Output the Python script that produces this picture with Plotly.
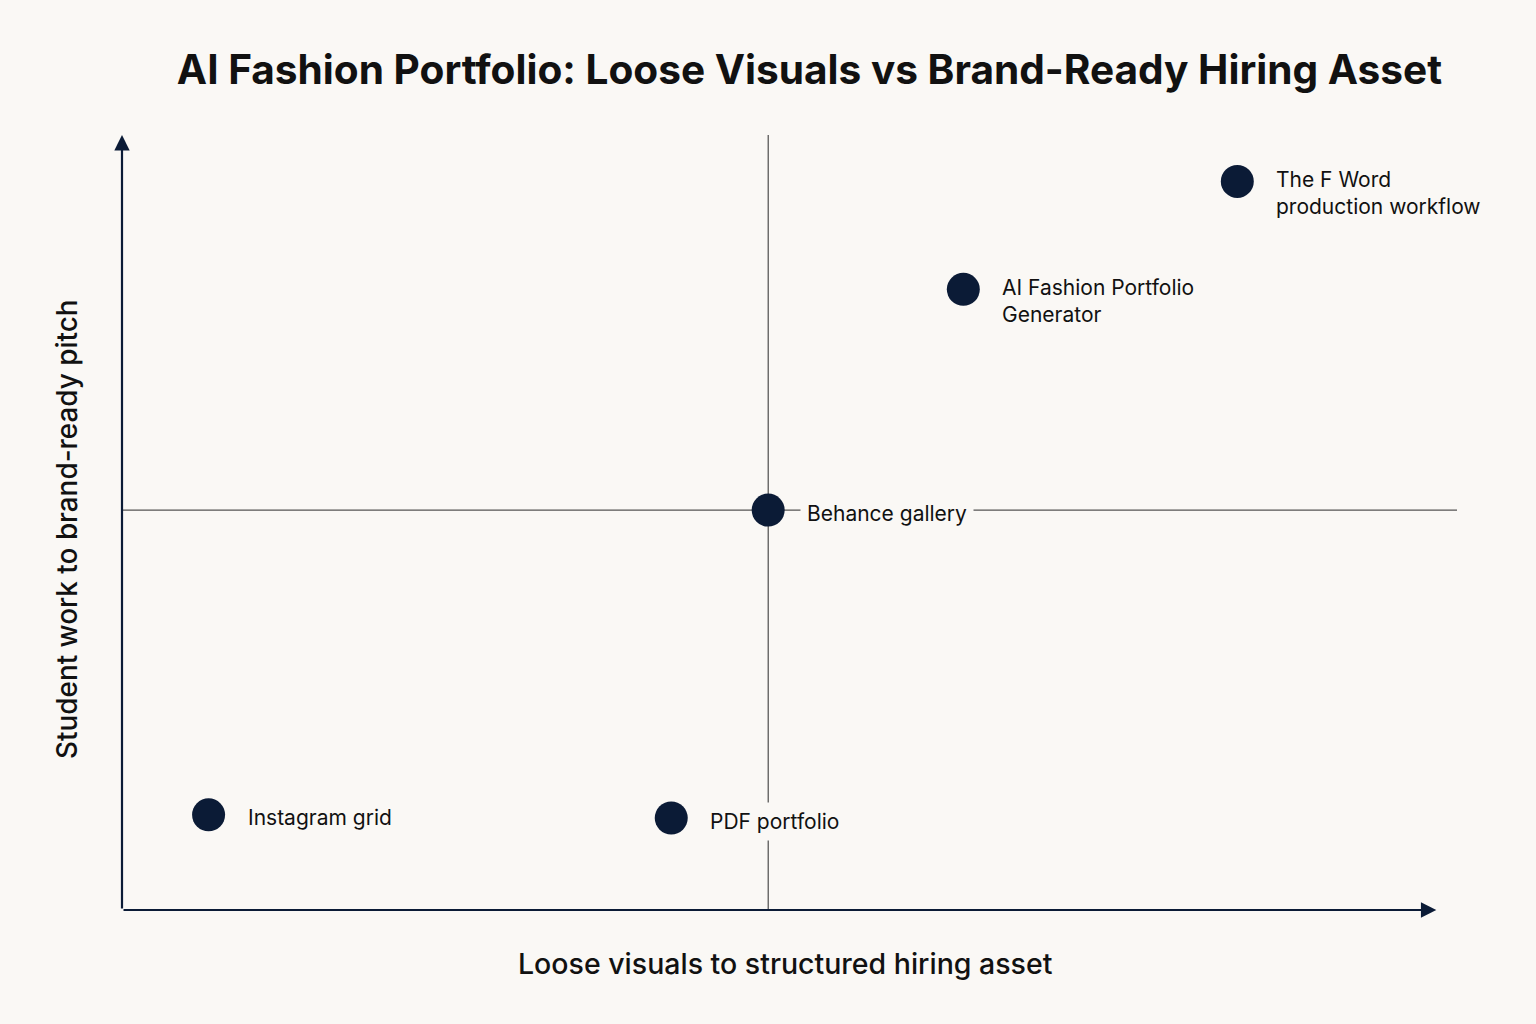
import plotly.graph_objects as go

# Data
names = ["The F Word<br>production workflow", "AI Fashion Portfolio<br>Generator", "Behance gallery",
         "Instagram grid", "PDF portfolio"]
x_vals = [8.63, 6.51, 5.0, 0.67, 4.25]
y_vals = [9.11, 7.76, 5.0, 1.19, 1.15]
x_mid = 5.0
y_mid = 5.0
x_title = "Loose visuals to structured hiring asset"
y_title = "Student work to brand-ready pitch"
title = "AI Fashion Portfolio: Loose Visuals vs Brand-Ready Hiring Asset"

BG = "#FAF8F5"
NAVY = "#0B1B36"
INK = "#111111"
FONT = "Inter, Liberation Sans, Arial, sans-serif"

X_RANGE = [0, 10.33]
Y_RANGE = [0, 9.69]

fig = go.Figure()

# quadrant lines
fig.add_shape(type="line", x0=x_mid, x1=x_mid, y0=Y_RANGE[0], y1=Y_RANGE[1], xref="x", yref="y",
              line=dict(color="#2a2a2a", width=1), layer="below")
fig.add_shape(type="line", x0=X_RANGE[0], x1=X_RANGE[1], y0=y_mid, y1=y_mid, xref="x", yref="y",
              line=dict(color="#2a2a2a", width=1), layer="below")

fig.add_trace(go.Scatter(
    x=x_vals, y=y_vals, mode="markers",
    marker=dict(size=33, color=NAVY, line=dict(width=0)),
    hoverinfo="skip", showlegend=False,
))

for n, xv, yv in zip(names, x_vals, y_vals):
    multi = "<br>" in n
    fig.add_annotation(
        x=xv, y=yv, xref="x", yref="y", text=n, showarrow=False,
        xanchor="left", yanchor="middle", align="left",
        xshift=32, yshift=-3 if not multi else -12,
        font=dict(family=FONT, size=21, color=INK),
        bgcolor=BG, borderpad=6,
    )

# axes with arrows
fig.add_annotation(x=10.17, y=0, ax=0, ay=0, xref="x", yref="y", axref="x", ayref="y",
                   showarrow=True, arrowhead=2, arrowsize=1.4, arrowwidth=2.2, arrowcolor=NAVY, text="")
fig.add_annotation(x=0, y=9.69, ax=0, ay=0, xref="x", yref="y", axref="x", ayref="y",
                   showarrow=True, arrowhead=2, arrowsize=1.4, arrowwidth=2.2, arrowcolor=NAVY, text="")

# axis titles (positions given in page pixels, converted to paper coords below)
fig.add_annotation(x=785, y=1024 - 963, xref="paper", yref="paper", text=x_title, showarrow=False,
                   xanchor="center", yanchor="middle",
                   font=dict(family=FONT, size=28.5, color=INK, weight=500))
fig.add_annotation(x=67, y=1024 - 529, xref="paper", yref="paper", text=y_title, showarrow=False,
                   xanchor="center", yanchor="middle", textangle=-90,
                   font=dict(family=FONT, size=27.9, color=INK, weight=500))

fig.update_layout(
    width=1536, height=1024,
    paper_bgcolor=BG, plot_bgcolor=BG,
    margin=dict(l=122, r=79, t=135, b=114),
    title=dict(text="<b>" + title + "</b>", x=0.527, xanchor="center", y=0.932, yanchor="middle",
               font=dict(family=FONT, size=40.6, color=INK)),
    xaxis=dict(range=X_RANGE, showgrid=False, zeroline=False, showticklabels=False, ticks="",
               showline=False),
    yaxis=dict(range=Y_RANGE, showgrid=False, zeroline=False, showticklabels=False, ticks="",
               showline=False),
    font=dict(family=FONT),
)

for ann in fig.layout.annotations:
    if ann.xref == "paper" and ann.x > 1:
        ann.x = (ann.x - 122) / (1536 - 122 - 79)
        ann.y = (ann.y - 114) / (1024 - 135 - 114)

fig.write_html("out.html")
